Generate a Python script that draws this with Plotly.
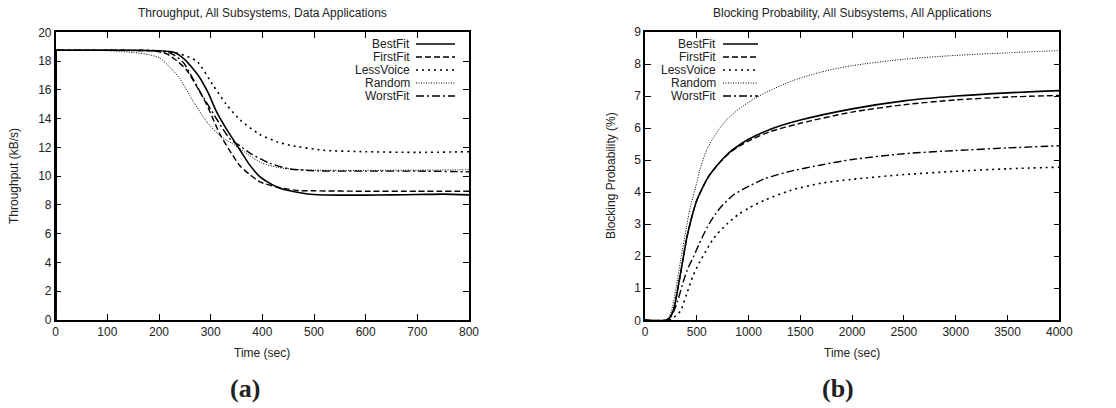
import plotly.graph_objects as go

# ---------------- (a) Throughput data ----------------
tp_start_v = 0  # value at t = 0 before the jump
tp_best_t = [1, 100, 200, 230, 250, 276, 295, 311, 330, 357, 375, 395, 415, 434, 473, 500, 550, 600, 650, 700, 750, 800]
tp_best_v = [18.75, 18.75, 18.72, 18.6, 18.1, 17.0, 15.8, 14.5, 13.3, 11.8, 10.8, 9.97, 9.5, 9.16, 8.85, 8.72, 8.68, 8.68, 8.7, 8.72, 8.75, 8.7]

tp_first_t = [1, 100, 190, 215, 235, 253, 272, 292, 318, 340, 357, 376, 395, 434, 470, 500, 600, 700, 800]
tp_first_v = [18.75, 18.75, 18.7, 18.5, 18.0, 17.4, 16.3, 15.0, 12.9, 11.6, 10.7, 10.1, 9.6, 9.2, 9.0, 8.98, 8.95, 8.95, 8.95]

tp_less_t = [1, 100, 200, 240, 273, 305, 330, 357, 395, 428, 453, 518, 600, 700, 800]
tp_less_v = [18.75, 18.75, 18.72, 18.5, 18.0, 16.3, 15.0, 13.9, 12.9, 12.4, 12.15, 11.8, 11.7, 11.65, 11.7]

tp_rand_t = [1, 100, 150, 180, 202, 220, 240, 266, 292, 318, 340, 357, 376, 400, 430, 453, 500, 600, 700, 800]
tp_rand_v = [18.75, 18.72, 18.6, 18.45, 18.2, 17.6, 16.8, 15.2, 13.8, 12.8, 12.3, 11.9, 11.4, 10.9, 10.6, 10.5, 10.42, 10.4, 10.42, 10.45]

tp_worst_t = [1, 100, 200, 225, 247, 279, 311, 337, 357, 376, 414, 453, 511, 600, 700, 800]
tp_worst_v = [18.75, 18.75, 18.7, 18.5, 17.9, 15.9, 14.0, 12.6, 12.1, 11.6, 10.9, 10.5, 10.36, 10.35, 10.35, 10.3]

# ---------------- (b) Blocking probability data ----------------
bp_best_t = [0, 200, 230, 260, 285, 345, 405, 450, 495, 550, 616, 700, 800, 900, 1000, 1200, 1500, 2000, 2500, 3000, 3500, 4000]
bp_best_v = [0, 0, 0.05, 0.2, 0.45, 1.5, 2.6, 3.2, 3.7, 4.1, 4.5, 4.85, 5.2, 5.45, 5.65, 5.95, 6.25, 6.6, 6.85, 7.0, 7.1, 7.17]

bp_first_t = [0, 200, 230, 260, 285, 345, 405, 450, 495, 550, 616, 700, 800, 900, 1000, 1200, 1500, 2000, 2500, 3000, 3500, 4000]
bp_first_v = [0, 0, 0.05, 0.2, 0.45, 1.5, 2.6, 3.2, 3.7, 4.1, 4.5, 4.85, 5.18, 5.42, 5.6, 5.88, 6.15, 6.5, 6.73, 6.88, 6.97, 7.02]

bp_less_t = [0, 220, 260, 300, 345, 400, 465, 525, 586, 650, 700, 796, 900, 1000, 1156, 1400, 1700, 2000, 2500, 3000, 3500, 4000]
bp_less_v = [0, 0, 0.05, 0.15, 0.3, 0.8, 1.4, 1.8, 2.15, 2.5, 2.7, 3.02, 3.3, 3.5, 3.75, 4.05, 4.28, 4.4, 4.55, 4.65, 4.73, 4.78]

bp_rand_t = [0, 200, 230, 256, 300, 345, 400, 435, 500, 525, 600, 700, 800, 950, 1100, 1400, 1700, 2000, 2500, 3000, 3500, 4000]
bp_rand_v = [0, 0, 0.1, 0.3, 1.0, 1.9, 2.9, 3.5, 4.3, 4.65, 5.35, 5.9, 6.3, 6.7, 7.0, 7.45, 7.75, 7.95, 8.15, 8.27, 8.35, 8.42]

bp_worst_t = [0, 210, 250, 280, 315, 360, 405, 470, 525, 600, 676, 750, 856, 1000, 1156, 1400, 1700, 2000, 2500, 3000, 3500, 4000]
bp_worst_v = [0, 0, 0.1, 0.3, 0.6, 1.1, 1.55, 2.0, 2.4, 2.9, 3.3, 3.6, 3.92, 4.18, 4.42, 4.65, 4.85, 5.02, 5.2, 5.3, 5.38, 5.45]

names = ["BestFit", "FirstFit", "LessVoice", "Random", "WorstFit"]
dashes = ["solid", "6px,3px", "2px,4px", "1px,1.5px", "8px,3px,2px,3px"]
widths = [1.6, 1.4, 1.6, 1.0, 1.4]

tp_series = [(tp_best_t, tp_best_v), (tp_first_t, tp_first_v), (tp_less_t, tp_less_v),
             (tp_rand_t, tp_rand_v), (tp_worst_t, tp_worst_v)]
bp_series = [(bp_best_t, bp_best_v), (bp_first_t, bp_first_v), (bp_less_t, bp_less_v),
             (bp_rand_t, bp_rand_v), (bp_worst_t, bp_worst_v)]

W, H = 1116, 408
def px(x):
    return x / W
def py(y):
    return 1 - y / H

fig = go.Figure()
for i, (t, v) in enumerate(tp_series):
    # initial jump at t = 0 (straight segment), then the smooth curve
    fig.add_trace(go.Scatter(x=[0, t[0]], y=[tp_start_v, v[0]], mode="lines", showlegend=False,
                             line=dict(color="black", width=widths[i]), xaxis="x", yaxis="y"))
    fig.add_trace(go.Scatter(x=t, y=v, mode="lines", name=names[i], showlegend=False,
                             line=dict(color="black", dash=dashes[i], width=widths[i], shape="spline", smoothing=0.6),
                             xaxis="x", yaxis="y"))
for i, (t, v) in enumerate(bp_series):
    fig.add_trace(go.Scatter(x=t, y=v, mode="lines", name=names[i], showlegend=False,
                             line=dict(color="black", dash=dashes[i], width=widths[i], shape="spline", smoothing=0.7),
                             xaxis="x2", yaxis="y2"))

font = dict(family="Liberation Sans, Arial, sans-serif", size=12, color="#222")
axis_common = dict(showline=True, linecolor="black", linewidth=1.5, mirror="ticks", ticks="inside",
                   ticklen=6, tickcolor="black", tickwidth=1, showgrid=False, zeroline=False,
                   tickfont=font, automargin=False)

fig.update_layout(
    width=W, height=H, margin=dict(l=0, r=0, t=0, b=0, autoexpand=False),
    paper_bgcolor="white", plot_bgcolor="white", showlegend=False,
    xaxis=dict(domain=[px(55.7), px(469)], range=[0, 800], dtick=100, anchor="y", **axis_common),
    yaxis=dict(domain=[py(320), py(32.3)], range=[0, 20], dtick=2, anchor="x", **axis_common),
    xaxis2=dict(domain=[px(645), px(1059.3)], range=[0, 4000], dtick=500, anchor="y2", **axis_common),
    yaxis2=dict(domain=[py(320.3), py(32)], range=[0, 9], dtick=1, anchor="x2", **axis_common),
)

ann = []
def text(x, y, s, size=12, angle=0, xanchor="center", family=None):
    f = dict(font)
    f["size"] = size
    if family:
        f["family"] = family
    ann.append(dict(x=px(x), y=py(y), xref="paper", yref="paper", text=s, showarrow=False,
                    xanchor=xanchor, yanchor="middle", textangle=angle, font=f))

text(262, 13, "Throughput, All Subsystems, Data Applications")
text(852, 13, "Blocking Probability, All Subsystems, All Applications")
text(262, 353, "Time (sec)")
text(852, 353, "Time (sec)")
text(14, 176, "Throughput (kB/s)", angle=-90)
text(611, 176, "Blocking Probability (%)", angle=-90)
serif = "Liberation Serif, Times New Roman, serif"
text(245, 388, "<b>(a)</b>", size=26, family=serif)
text(838, 388, "<b>(b)</b>", size=26, family=serif)

shapes = []
rows = [44, 57, 70, 83, 96]
for (tx, l0, l1) in [(412, 416, 455), (718, 723, 758)]:
    for i, n in enumerate(names):
        text(tx, rows[i], n, xanchor="right")
        shapes.append(dict(type="line", xref="paper", yref="paper", x0=px(l0), x1=px(l1),
                           y0=py(rows[i]), y1=py(rows[i]),
                           line=dict(color="black", dash=dashes[i], width=widths[i])))

fig.update_layout(annotations=ann, shapes=shapes)
fig.write_html("out.html", config={"displayModeBar": False},
               post_script="document.body.style.margin='0';document.body.style.padding='0';document.body.style.overflow='hidden';")
